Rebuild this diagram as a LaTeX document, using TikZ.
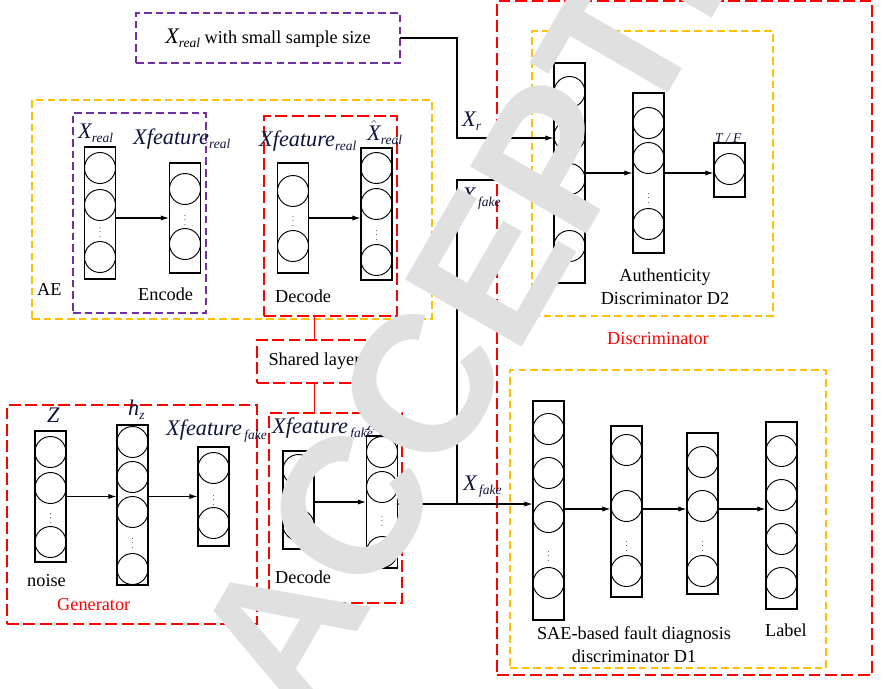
\documentclass[tikz,border=0pt]{standalone}
\usepackage{fontspec}
\setmainfont{Liberation Serif}
\setsansfont{Liberation Sans}
\usetikzlibrary{arrows.meta}

\definecolor{aeyellow}{RGB}{255,192,0}
\definecolor{encpurple}{RGB}{112,48,160}
\definecolor{labnavy}{RGB}{15,20,60}
\definecolor{stampgray}{RGB}{224,224,224}

\newcommand\sublab[2]{{\fontsize{19}{19}\selectfont\itshape #1}\raisebox{-3.5pt}{\fontsize{11.5}{11.5}\selectfont\itshape #2}}
\newcommand\hatX{$\hat{\hbox{\itshape X}}$}

\tikzset{
    layer/.style={rectangle, draw=black, line width=0.9pt, minimum width=0.93cm, inner sep=0pt},
    neuron/.style={circle, draw=black, line width=0.8pt, minimum size=0.93cm, inner sep=0pt},
    dotnode/.style={inner sep=0pt, font=\fontsize{8}{8}\selectfont, text=black!70},
    groupbox/.style={rectangle, line width=1.6pt, inner sep=0pt, outer sep=0pt},
    ybox/.style={groupbox, draw=aeyellow, dash pattern=on 6.5pt off 3.5pt},
    pbox/.style={groupbox, draw=encpurple, dash pattern=on 6.5pt off 3.5pt},
    rbox/.style={groupbox, draw=red, dash pattern=on 10pt off 4pt},
    redline/.style={draw=red, line width=1.6pt},
    arrow/.style={line width=0.9pt, -{Latex[length=7pt, width=4.5pt]}},
    txt/.style={font=\fontsize{15.6}{18.8}\selectfont, inner sep=0pt},
    lab/.style={inner sep=0pt, anchor=base west, text=labnavy},
    stamp/.style={rotate=60, anchor=base west, inner sep=0pt, text=stampgray, font=\fontsize{167}{167}\selectfont\sffamily\bfseries}
}

\begin{document}
\begin{tikzpicture}[x=0.03cm, y=-0.03cm]
    \useasboundingbox (0,0) rectangle (883,688);

    % Boxes
    \node[pbox, txt, minimum width=7.92cm, minimum height=1.5cm] (realbox) at (268,38) {\sublab{X}{real} with small sample size};
    \node[ybox, anchor=north west, minimum width=12cm, minimum height=6.57cm] (aebox) at (32,100) {};
    \node[pbox, anchor=north west, minimum width=3.99cm, minimum height=6cm] (encbox) at (73,113) {};
    \node[rbox, anchor=north west, minimum width=3.99cm, minimum height=6cm] (decrbox) at (264,116) {};
    \node[rbox, txt, anchor=north west, minimum width=3.45cm, minimum height=1.29cm] (sharedbox) at (257,340) {Shared layer};
    \node[rbox, anchor=north west, minimum width=7.5cm, minimum height=6.57cm] (genbox) at (7,405) {};
    \node[rbox, anchor=north west, minimum width=3.99cm, minimum height=5.7cm] (decfbox) at (269,413) {};
    \node[rbox, anchor=north west, minimum width=11.25cm, minimum height=20.22cm] (discbox) at (497,1) {};
    \node[ybox, anchor=north west, minimum width=7.23cm, minimum height=8.55cm] (d2box) at (532,31) {};
    \node[ybox, anchor=north west, minimum width=9.48cm, minimum height=8.94cm] (d1box) at (510,370) {};

    % Layers: AE
    \node[layer, minimum height=3.96cm] (enc1) at (100,213) {};
    \foreach \y [count=\i] in {168,205,257} \node[neuron] (enc1-\i) at (100,\y) {};
    \node[dotnode] (enc1-dots) at (100,229) {$\vdots$};
    \node[layer, minimum height=3.3cm] (enc2) at (185,218) {};
    \foreach \y [count=\i] in {189,244} \node[neuron] (enc2-\i) at (185,\y) {};
    \node[dotnode] (enc2-dots) at (185,217) {$\vdots$};
    \node[layer, minimum height=3.3cm] (decr1) at (293,218) {};
    \foreach \y [count=\i] in {191,246} \node[neuron] (decr1-\i) at (293,\y) {};
    \node[dotnode] (decr1-dots) at (293,218) {$\vdots$};
    \node[layer, minimum height=3.96cm] (decr2) at (376.5,214) {};
    \foreach \y [count=\i] in {168,204,260} \node[neuron] (decr2-\i) at (376.5,\y) {};
    \node[dotnode] (decr2-dots) at (376.5,232) {$\vdots$};

    % Layers: generator
    \node[layer, minimum height=3.93cm] (genz) at (50.5,496.5) {};
    \foreach \y [count=\i] in {452,488,542} \node[neuron] (genz-\i) at (50.5,\y) {};
    \node[dotnode] (genz-dots) at (50.5,515) {$\vdots$};
    \node[layer, minimum height=4.8cm] (genh) at (132.5,505) {};
    \foreach \y [count=\i] in {442,477,512,569} \node[neuron] (genh-\i) at (132.5,\y) {};
    \node[dotnode] (genh-dots) at (132.5,540) {$\vdots$};
    \node[layer, minimum height=2.97cm] (genf) at (213.5,496.5) {};
    \foreach \y [count=\i] in {468,523} \node[neuron] (genf-\i) at (213.5,\y) {};
    \node[dotnode] (genf-dots) at (213.5,497) {$\vdots$};
    \node[layer, minimum height=2.94cm] (decf1) at (298.5,500) {};
    \foreach \y [count=\i] in {470,525} \node[neuron] (decf1-\i) at (298.5,\y) {};
    \node[dotnode] (decf1-dots) at (298.5,497) {$\vdots$};
    \node[layer, minimum height=3.96cm] (decf2) at (382,502) {};
    \foreach \y [count=\i] in {452,487,552} \node[neuron] (decf2-\i) at (382,\y) {};
    \node[dotnode] (decf2-dots) at (382,518) {$\vdots$};

    % Layers: discriminators
    \node[layer, minimum height=6.6cm] (d2a) at (569.5,173) {};
    \foreach \y [count=\i] in {92,136,179,246} \node[neuron] (d2a-\i) at (569.5,\y) {};
    \node[dotnode] (d2a-dots) at (569.5,213) {$\vdots$};
    \node[layer, minimum height=4.8cm] (d2b) at (648.5,173) {};
    \foreach \y [count=\i] in {123,158,224} \node[neuron] (d2b-\i) at (648.5,\y) {};
    \node[dotnode] (d2b-dots) at (648.5,195) {$\vdots$};
    \node[layer, minimum height=1.62cm] (d2c) at (729.5,170) {};
    \node[neuron] (d2c-1) at (729.5,169) {};
    \node[layer, minimum height=6.57cm] (d1a) at (548.5,510.5) {};
    \foreach \y [count=\i] in {429,473,517,583} \node[neuron] (d1a-\i) at (548.5,\y) {};
    \node[dotnode] (d1a-dots) at (548.5,553) {$\vdots$};
    \node[layer, minimum height=5.13cm] (d1b) at (626.5,511.5) {};
    \foreach \y [count=\i] in {450,506,571} \node[neuron] (d1b-\i) at (626.5,\y) {};
    \node[dotnode] (d1b-dots) at (626.5,543) {$\vdots$};
    \node[layer, minimum height=4.83cm] (d1c) at (702.5,513.5) {};
    \foreach \y [count=\i] in {462,506,571} \node[neuron] (d1c-\i) at (702.5,\y) {};
    \node[dotnode] (d1c-dots) at (702.5,543) {$\vdots$};
    \node[layer, minimum height=5.61cm] (d1d) at (781.5,515.5) {};
    \foreach \y [count=\i] in {451,495,539,583} \node[neuron] (d1d-\i) at (781.5,\y) {};

    % Labels
    \node[lab] (lxreal) at (78,138) {\sublab{X}{real}};
    \node[lab] (lxfenc) at (133,144) {\sublab{Xfeature}{real}};
    \node[lab] (lxfdec) at (259,146) {\sublab{Xfeature}{real}};
    \node[lab] (lxhat) at (367,140) {\sublab{\hatX}{real}};
    \node[lab] (lz) at (47,422) {\fontsize{19}{19}\selectfont\itshape Z};
    \node[lab] (lhz) at (128,415) {\sublab{h}{z}};
    \node[lab] (lxfgen) at (166,435) {\sublab{Xfeature}{\kern2pt fake}};
    \node[lab] (lxfdf) at (272,433) {\sublab{Xfeature}{\kern2pt fake}};
    \node[lab] (lxhatf) at (366,430) {\sublab{\hatX}{fake}};
    \node[lab] (lxr) at (462,126) {\sublab{X}{r}};
    \node[lab] (lxfake1) at (462,202) {\sublab{X}{\kern2pt fake}};
    \node[lab] (lxfake2) at (463,490) {\sublab{X}{\kern2pt fake}};
    \node[lab] (ltf) at (715,142) {\fontsize{11.5}{11.5}\selectfont\itshape T / F};
    \node[txt, anchor=base west] (aetxt) at (37,295) {AE};
    \node[txt, anchor=base west] (enctxt) at (138,300) {Encode};
    \node[txt, anchor=base west] (decrtxt) at (275,302) {Decode};
    \node[txt, anchor=base west] (noisetxt) at (27,586) {noise};
    \node[txt, anchor=base west, text=red] (gentxt) at (57,610) {Generator};
    \node[txt, anchor=base west] (decftxt) at (275,583) {Decode};
    \node[txt, align=center, anchor=base] (d2txt) at (665,304) {Authenticity\\Discriminator D2};
    \node[txt, anchor=base, text=red] (disctxt) at (658,344) {Discriminator};
    \node[txt, align=center, anchor=base] (d1txt) at (634,662) {SAE-based fault diagnosis\\discriminator D1};
    \node[txt, anchor=base] (labeltxt) at (786,636) {Label};

    % Coordinates for the data paths
    \coordinate (xrturn) at (457,138);
    \coordinate (fakesplit) at (457,504);
    \coordinate (fakeup) at (457,180);

    % Arrows
    \draw[arrow] (enc1.east |- enc2.west) -- (enc2.west);
    \draw[arrow] (decr1.east) -- (decr1.east -| decr2.west);
    \draw[arrow] (genz.east) -- (genz.east -| genh.west);
    \draw[arrow] (genh.east |- genf.west) -- (genf.west);
    \draw[arrow] (decf1.east |- decf2.west) -- (decf2.west);
    \draw[arrow] (d2a.east) -- (d2b.west);
    \draw[arrow] (d2b.east) -- (d2b.east -| d2c.west);
    \draw[arrow] (d1a.east |- 0,509) -- (d1b.west |- 0,509);
    \draw[arrow] (d1b.east |- 0,509) -- (d1c.west |- 0,509);
    \draw[arrow] (d1c.east |- 0,509) -- (d1d.west |- 0,509);
    \draw[arrow] (realbox.east) -| (xrturn) -- (xrturn -| d2a.west);
    \draw[arrow] (decf2.east |- fakesplit) -- (fakesplit -| d1a.west);
    \draw[arrow] (fakesplit) -- (fakeup) -- (fakeup -| d2a.west);
    \draw[redline] (decrbox.south -| sharedbox.north) -- (sharedbox.north);
    \draw[redline] (sharedbox.south) -- (sharedbox.south |- decfbox.north);

    % Watermark
    \begin{scope}
        \clip (0,0) rectangle (883,688);
        \node[stamp] (stamptxt) at (303,726) {ACCEPTED};
    \end{scope}
\end{tikzpicture}
\end{document}
